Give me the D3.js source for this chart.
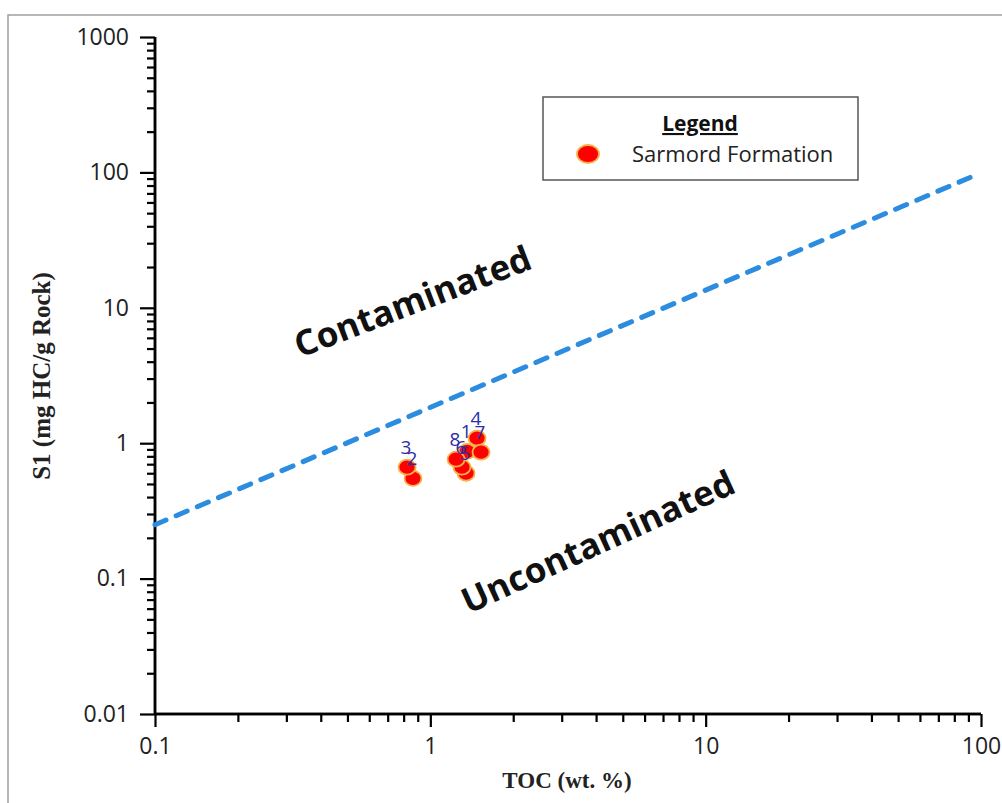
<!DOCTYPE html>
<html><head><meta charset="utf-8">
<script src="https://cdn.jsdelivr.net/npm/d3@7"></script>
<style>
html,body{margin:0;padding:0;background:#fff;}
svg{display:block;}
</style></head>
<body>
<svg id="chart" width="1002" height="803"></svg>
<script>
// ---- data ----
const sampleIds = ["1","2","3","4","5","6","7","8"];
const tocValues = [1.36, 0.865, 0.823, 1.478, 1.348, 1.303, 1.528, 1.24];
const s1Values  = [0.87, 0.55, 0.665, 1.09, 0.60, 0.665, 0.858, 0.762];
const xMajorTicks = [0.1, 1, 10, 100];
const xTickLabels = ["0.1", "1", "10", "100"];
const yMajorTicks = [0.01, 0.1, 1, 10, 100, 1000];
const yTickLabels = ["0.01", "0.1", "1", "10", "100", "1000"];
const boundaryToc = [0.1, 95];
const boundaryS1  = [0.25, 95];
const seriesName = "Sarmord Formation";

const svg = d3.select("#chart");
const x = d3.scaleLog().domain([0.1, 100]).range([155, 981]);
const y = d3.scaleLog().domain([0.01, 1000]).range([714, 37]);

// frame
svg.append("rect").attr("x", 8).attr("y", 15).attr("width", 1010).attr("height", 800)
  .attr("fill", "none").attr("stroke", "#a0a0a0").attr("stroke-width", 1.5);

function minorTicks(scale) {
  const [a, b] = scale.domain();
  const out = [];
  for (let d = a; d < b * 0.999; d *= 10) for (let k = 2; k <= 9; k++) out.push(d * k);
  return out;
}

const tickFont = "'Open Sans', 'Liberation Sans', sans-serif";

// y axis
const yMinorG = svg.append("g").attr("transform", "translate(155,0)")
  .call(d3.axisLeft(y).tickValues(minorTicks(y)).tickSize(8).tickFormat(""));
const yMajorG = svg.append("g").attr("transform", "translate(155,0)")
  .call(d3.axisLeft(y).tickValues(yMajorTicks).tickSize(15).tickPadding(11)
    .tickFormat((d, i) => yTickLabels[i]));
// x axis
const xMinorG = svg.append("g").attr("transform", "translate(0,714)")
  .call(d3.axisBottom(x).tickValues(minorTicks(x)).tickSize(8).tickFormat(""));
const xMajorG = svg.append("g").attr("transform", "translate(0,714)")
  .call(d3.axisBottom(x).tickValues(xMajorTicks).tickSize(13).tickPadding(11)
    .tickFormat((d, i) => xTickLabels[i]));

[yMinorG, yMajorG, xMinorG, xMajorG].forEach(g => {
  g.select(".domain").attr("stroke", "#000").attr("stroke-width", 2.5);
  g.selectAll(".tick line").attr("stroke", "#000").attr("stroke-width", 2.2);
  g.selectAll(".tick text").attr("font-family", tickFont).attr("font-size", 23)
    .attr("fill", "#222");
});
[yMinorG, yMajorG].forEach(g => g.select(".domain").attr("d", `M0,${y(1000)}V${y(0.01)}`));
[xMinorG, xMajorG].forEach(g => g.select(".domain").attr("d", `M${x(0.1)},0H${x(100)}`));

// axis titles
svg.append("text").attr("x", 567).attr("y", 788).attr("text-anchor", "middle")
  .attr("font-family", "'Liberation Serif', 'DejaVu Serif', serif").attr("font-weight", "bold")
  .attr("font-size", 23).attr("fill", "#222").text("TOC (wt. %)");
svg.append("text").attr("transform", "translate(50,376) rotate(-90)").attr("text-anchor", "middle")
  .attr("font-family", "'Liberation Serif', 'DejaVu Serif', serif").attr("font-weight", "bold")
  .attr("font-size", 25).attr("fill", "#222").text("S1 (mg HC/g Rock)");

// boundary line
const line = d3.line().x(d => x(d[0])).y(d => y(d[1]));
svg.append("path").datum(d3.zip(boundaryToc, boundaryS1)).attr("d", line)
  .attr("fill", "none").attr("stroke", "#2b8ce0").attr("stroke-width", 5)
  .attr("stroke-dasharray", "12,11").attr("stroke-linecap", "round");

// region labels
svg.append("text").attr("transform", "translate(417,313) rotate(-21)").attr("text-anchor", "middle")
  .attr("font-family", "'Open Sans', sans-serif").attr("font-weight", "bold")
  .attr("font-size", 35).attr("fill", "#111").text("Contaminated");
svg.append("text").attr("transform", "translate(603,553) rotate(-24.5)").attr("text-anchor", "middle")
  .attr("font-family", "'Open Sans', sans-serif").attr("font-weight", "bold")
  .attr("font-size", 35).attr("fill", "#111").text("Uncontaminated");

// points
const pts = sampleIds.map((id, i) => ({id, toc: tocValues[i], s1: s1Values[i]}));
svg.append("g").selectAll("ellipse").data(pts).join("ellipse")
  .attr("cx", d => x(d.toc)).attr("cy", d => y(d.s1)).attr("rx", 8.5).attr("ry", 7.5)
  .attr("fill", "#ff0000").attr("stroke", "#f5b24a").attr("stroke-width", 1.8);
svg.append("g").selectAll("text").data(pts).join("text")
  .attr("x", d => x(d.toc) - 1).attr("y", d => y(d.s1) - 13).attr("text-anchor", "middle")
  .attr("font-family", "'Open Sans', sans-serif").attr("font-size", 19).attr("fill", "#2d2da8")
  .text(d => d.id);

// legend
const lg = svg.append("g");
lg.append("rect").attr("x", 543).attr("y", 97).attr("width", 315).attr("height", 83)
  .attr("fill", "#fff").attr("stroke", "#555").attr("stroke-width", 1.5);
lg.append("text").attr("x", 700).attr("y", 131).attr("text-anchor", "middle")
  .attr("font-family", "'Open Sans', sans-serif").attr("font-weight", "bold")
  .attr("font-size", 21).attr("fill", "#111").attr("text-decoration", "underline").text("Legend");
lg.append("ellipse").attr("cx", 588).attr("cy", 154).attr("rx", 11).attr("ry", 9)
  .attr("fill", "#ff0000").attr("stroke", "#f5b24a").attr("stroke-width", 1.8);
lg.append("text").attr("x", 632).attr("y", 162)
  .attr("font-family", "'Open Sans', sans-serif").attr("font-size", 22).attr("fill", "#222")
  .text(seriesName);
</script>
</body></html>
